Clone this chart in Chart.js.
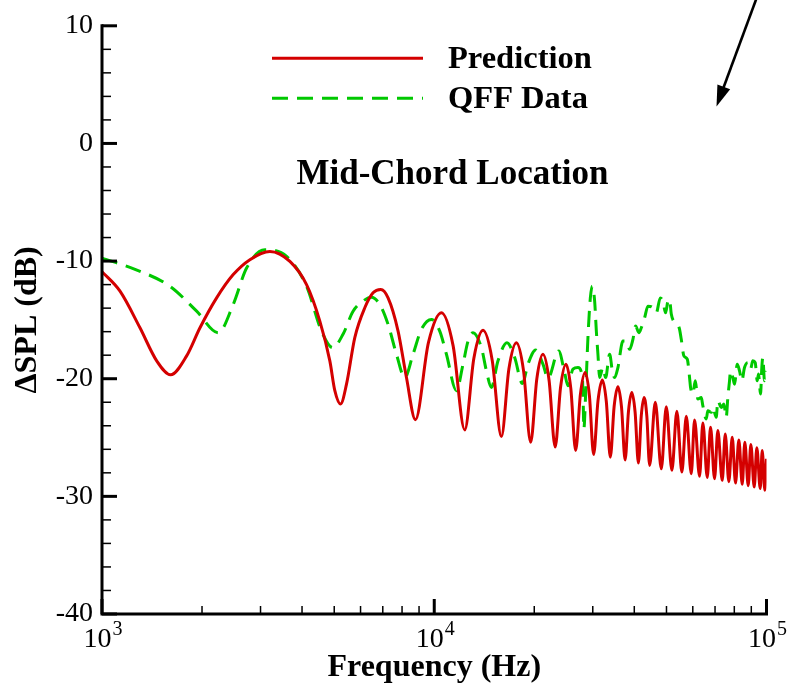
<!DOCTYPE html>
<html>
<head>
<meta charset="utf-8">
<script src="https://cdn.jsdelivr.net/npm/chart.js@4/dist/chart.umd.min.js"></script>
<style>
  html, body { margin: 0; padding: 0; background: #fff; }
  canvas { display: block; }
</style>
</head>
<body>
<canvas id="chart" width="789" height="686"></canvas>
<script>
// Prediction: frequency (Hz) and ΔSPL (dB)
const predFreq = [1000, 1133, 1301, 1461, 1609, 1798, 1972, 2213, 2483, 2787, 3201, 3677, 4127, 4525, 4850, 5021, 5223, 5444, 5766, 6179,
  6544, 6903, 7261, 7782, 8248, 8778, 9605, 10511, 11395, 12353, 13160, 14020, 14942, 15924, 16774, 17668, 18565, 19508, 20357, 21242,
  22160, 23118, 23998, 24912, 25763, 26642, 27534, 28455, 29305, 30180, 31103, 32054, 32955, 33881, 34785, 35713, 36614, 37538, 38420, 39322,
  40231, 41161, 41981, 42818, 43640, 44479, 46270, 48232, 49931, 51906, 53733, 55627, 57350, 59369, 60742,
  62884, 64335, 66322, 67856, 69761, 71374, 73583, 75127, 77024, 78858, 80682, 82549, 84517, 86054, 88101, 89701, 91842, 93512, 95741, 97077,
  98831, 100000];
const predDb = [-10.9, -12.56, -15.67, -18.48, -19.67, -18.06, -15.67, -13.13, -11.15, -9.88, -9.18, -10.03, -12.0, -15.1, -18.48, -21.02, -22.15, -20.46, -16.5, -13.97,
  -12.7, -12.42, -13.13, -15.95, -19.9, -23.48, -16.94, -14.4, -17.19, -24.35, -18.26, -15.89, -18.42, -24.92, -19.17, -16.94, -19.31, -25.4, -20.01, -17.92,
  -20.13, -25.8, -20.73, -18.76, -20.82, -26.1, -21.33, -19.47, -21.42, -26.44, -21.88, -20.1, -21.94, -26.67, -22.36, -20.68, -22.42, -26.9, -22.77, -21.17,
  -22.85, -27.17, -23.15, -21.59, -23.21, -27.37, -22.0, -27.65, -22.38, -27.79, -22.77, -27.93, -23.2, -28.07, -23.5,
  -28.3, -23.76, -28.4, -24.13, -28.5, -24.4, -28.64, -24.69, -28.75, -24.97, -28.87, -25.2, -28.98, -25.4, -29.09, -25.6, -29.2, -25.87, -29.34, -26.1,
  -29.48, -26.8];

// QFF Data: frequency (Hz) and ΔSPL (dB)
const qffFreq = [1000, 1257, 1601, 1927, 2238, 2483, 2724, 3092, 3594, 4127, 4578, 4952, 5319, 5698, 6106, 6472, 6855, 7261, 7696, 8151,
  8633, 9150, 9808, 10388, 10881, 11663, 12208, 12638, 13083, 13866, 14354, 14859, 15554, 16555, 17462, 18418, 19147, 20196, 21242, 21990,
  23683, 24688, 25259, 26149, 27070, 27910, 28084, 28201, 28554, 29012, 29498, 29910, 30391, 30750, 31093, 31461, 32188, 32796, 33718, 34355,
  34907, 35713, 36971, 37852, 38727, 39622, 40370, 41303, 41996, 42966, 43959, 45507, 46591, 47899, 48769, 49690, 50488, 51086, 51690, 52885,
  54107, 54748, 55396, 56403, 57745, 58674, 59082, 60031, 61037, 62146, 63626, 64335, 65866, 66600, 68185, 68945, 70588, 71374, 73074, 74402,
  75649, 76492, 77398, 77936, 79188, 80125, 81638, 82950, 84282, 85872, 87857, 89516, 90955, 92480, 93770, 94618, 95939, 96808, 97481, 98626,
  99800];
const qffDb = [-9.75, -10.7, -12.14, -14.26, -16.09, -13.69, -10.59, -9.04, -9.6, -12.14, -15.95, -17.36, -16.2, -14.26, -13.4, -13.07, -13.69, -15.38, -17.92, -19.9,
  -17.92, -15.8, -14.96, -15.95, -17.92, -21.02, -18.76, -16.8, -16.09, -17.36, -19.33, -20.74, -18.48, -16.94, -18.2, -20.4, -18.76, -17.56, -18.76, -19.95,
  -17.64, -19.5, -20.6, -19.19, -19.05, -19.9, -22.15, -24.26, -21.3, -16.5, -13.13, -12.14, -13.4, -15.95, -17.92, -19.9, -19.05, -19.9, -17.92, -19.33,
  -19.9, -19.05, -16.8, -16.8, -17.5, -16.65, -15.52, -16.09, -15.67, -14.82, -13.83, -13.97, -14.4, -13.13, -13.4, -14.4, -13.4, -13.27, -14.5, -15.2,
  -15.4, -15.8, -16.65, -18.06, -18.34, -19.9, -20.74, -21.3, -20.18, -21.73, -21.6, -22.3, -23.42, -22.72, -22.86, -22.44, -23.28, -21.87, -22.44, -22.15,
  -23.28, -21.6, -20.18, -19.33, -19.9, -20.46, -18.76, -19.33, -20.18, -19.05, -18.63, -19.19, -18.48, -18.63, -20.18, -19.6, -21.3, -19.05, -18.2, -20.18,
  -19.33];

// Axis ticks
const xTickValues = [1000, 2000, 3000, 4000, 5000, 6000, 7000, 8000, 9000,
  10000, 20000, 30000, 40000, 50000, 60000, 70000, 80000, 90000, 100000];
const xDecades = [1000, 10000, 100000];
const xDecadeLabels = [['10', '3'], ['10', '4'], ['10', '5']];
const yMin = -40, yMax = 10, yMinorStep = 2, yMajorStep = 10;

const seriesNames = ['Prediction', 'QFF Data'];
const panelTitle = 'Mid-Chord Location';
const xTitle = 'Frequency (Hz)';
const yTitle = 'ΔSPL (dB)';

const SERIF = "'Liberation Serif', 'Times New Roman', serif";
const toPoints = (xs, ys) => xs.map((v, i) => ({ x: v, y: ys[i] }));

// Frame, inward ticks, decade labels, legend, caption and arrow
const decorations = {
  id: 'decorations',
  afterDatasetsDraw(chart) {
    const { ctx, chartArea: a, scales: { x, y } } = chart;
    ctx.save();
    ctx.strokeStyle = '#000';
    ctx.fillStyle = '#000';
    ctx.lineCap = 'butt';

    // y ticks (pointing into the plot)
    y.ticks.forEach(t => {
      const py = y.getPixelForValue(t.value);
      const major = Math.abs(t.value % yMajorStep) < 1e-9;
      ctx.lineWidth = major ? 3 : 1.5;
      ctx.beginPath();
      ctx.moveTo(a.left, py);
      ctx.lineTo(a.left + (major ? 15 : 9), py);
      ctx.stroke();
    });
    // x ticks
    x.ticks.forEach(t => {
      const px = x.getPixelForValue(t.value);
      const major = xDecades.includes(t.value);
      ctx.lineWidth = major ? 3 : 1.5;
      ctx.beginPath();
      ctx.moveTo(px, a.bottom);
      ctx.lineTo(px, a.bottom - (major ? 15 : 8));
      ctx.stroke();
    });
    // axis lines
    ctx.lineWidth = 3;
    ctx.beginPath();
    ctx.moveTo(a.left, a.top - 1.5);
    ctx.lineTo(a.left, a.bottom);
    ctx.lineTo(a.right + 1.5, a.bottom);
    ctx.stroke();

    // decade labels with superscript exponent
    xDecades.forEach((v, i) => {
      const px = x.getPixelForValue(v);
      const [base, exp] = xDecadeLabels[i];
      ctx.font = `28px ${SERIF}`;
      const wb = ctx.measureText(base).width;
      ctx.font = `20px ${SERIF}`;
      const we = ctx.measureText(exp).width;
      const left = px + 1 - (wb + we + 1) / 2;
      ctx.textBaseline = 'alphabetic';
      ctx.textAlign = 'left';
      ctx.font = `28px ${SERIF}`;
      ctx.fillText(base, left, a.bottom + 32.5);
      ctx.font = `20px ${SERIF}`;
      ctx.fillText(exp, left + wb + 1, a.bottom + 21);
    });

    // legend
    const legendX0 = 272, legendX1 = 423, legendTextX = 448;
    const legendRows = [58.3, 98.3];
    chart.data.datasets.forEach((ds, i) => {
      const ly = legendRows[i];
      ctx.save();
      ctx.strokeStyle = ds.borderColor;
      ctx.lineWidth = ds.borderWidth;
      ctx.setLineDash(ds.borderDash || []);
      ctx.beginPath();
      ctx.moveTo(legendX0, ly);
      ctx.lineTo(legendX1, ly);
      ctx.stroke();
      ctx.restore();
      ctx.font = `bold 32.5px ${SERIF}`;
      ctx.textAlign = 'left';
      ctx.textBaseline = 'alphabetic';
      ctx.fillText(ds.label, legendTextX, ly + 10);
    });

    // caption
    ctx.font = `bold 35px ${SERIF}`;
    ctx.textAlign = 'center';
    ctx.textBaseline = 'alphabetic';
    ctx.fillText(panelTitle, 452.5, 183.5);

    // arrow
    const tail = { x: 757, y: -3 }, tip = { x: 716.5, y: 106.5 };
    const dx = tip.x - tail.x, dy = tip.y - tail.y, len = Math.hypot(dx, dy);
    const ux = dx / len, uy = dy / len, headLen = 21, headHalf = 6.8;
    const bx = tip.x - ux * headLen, by = tip.y - uy * headLen;
    ctx.lineWidth = 2.6;
    ctx.beginPath();
    ctx.moveTo(tail.x, tail.y);
    ctx.lineTo(bx + ux * 2, by + uy * 2);
    ctx.stroke();
    ctx.beginPath();
    ctx.moveTo(tip.x, tip.y);
    ctx.lineTo(bx - uy * headHalf, by + ux * headHalf);
    ctx.lineTo(bx + uy * headHalf, by - ux * headHalf);
    ctx.closePath();
    ctx.fill();

    ctx.restore();
  }
};

new Chart(document.getElementById('chart'), {
  type: 'line',
  data: {
    datasets: [
      {
        label: seriesNames[0],
        data: toPoints(predFreq, predDb),
        borderColor: '#d40000',
        borderWidth: 3,
        pointRadius: 0,
        fill: false,
        cubicInterpolationMode: 'monotone'
      },
      {
        label: seriesNames[1],
        data: toPoints(qffFreq, qffDb),
        borderColor: '#00c800',
        borderWidth: 3,
        borderDash: [16, 9],
        pointRadius: 0,
        fill: false,
        cubicInterpolationMode: 'monotone'
      }
    ]
  },
  options: {
    responsive: false,
    animation: false,
    events: [],
    layout: { padding: { top: 23.3, right: 22.5, bottom: 0, left: 0 } },
    plugins: { legend: { display: false }, tooltip: { enabled: false } },
    scales: {
      x: {
        type: 'logarithmic',
        min: 1000,
        max: 100000,
        grid: { display: false, drawTicks: false },
        border: { display: false },
        ticks: { display: false },
        afterBuildTicks: s => { s.ticks = xTickValues.map(v => ({ value: v })); },
        afterFit: s => { s.height = 72; },
        title: {
          display: true,
          text: xTitle,
          color: '#000',
          font: { family: SERIF, size: 32, weight: 'bold', lineHeight: 1.125 },
          padding: { top: 0, bottom: 0 }
        }
      },
      y: {
        type: 'linear',
        min: yMin,
        max: yMax,
        grid: { display: false, drawTicks: false },
        border: { display: false },
        ticks: {
          stepSize: yMinorStep,
          autoSkip: false,
          padding: 9,
          color: '#000',
          font: { family: SERIF, size: 28 },
          callback: v => (Math.abs(v % yMajorStep) < 1e-9 ? String(v) : '')
        },
        afterFit: s => { s.width = 102; },
        title: {
          display: true,
          text: yTitle,
          color: '#000',
          font: { family: SERIF, size: 32, weight: 'bold', lineHeight: 1.125 },
          padding: { top: 10, bottom: 0 }
        }
      }
    }
  },
  plugins: [decorations]
});
</script>
</body>
</html>
